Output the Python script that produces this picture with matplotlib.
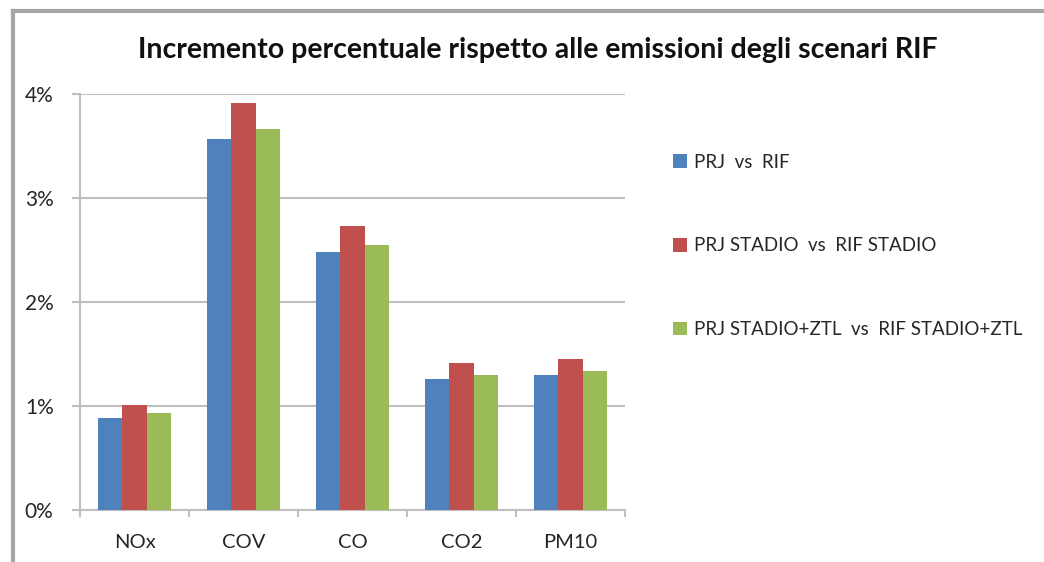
import matplotlib
matplotlib.use("Agg")
import matplotlib.pyplot as plt
import numpy as np
from matplotlib.lines import Line2D
from matplotlib.patches import Patch
from matplotlib.ticker import FixedLocator, PercentFormatter

plt.rcParams['font.family'] = ['Lato', 'DejaVu Sans']

# Emission increments (%) per pollutant
categories = ["NOx", "COV", "CO", "CO2", "PM10"]
prj_vs_rif = [0.88, 3.57, 2.48, 1.26, 1.30]
prj_stadio_vs_rif_stadio = [1.01, 3.91, 2.73, 1.41, 1.45]
prj_ztl_vs_rif_ztl = [0.93, 3.66, 2.55, 1.30, 1.34]
series_labels = ["PRJ  vs  RIF",
                 "PRJ STADIO  vs  RIF STADIO",
                 "PRJ STADIO+ZTL  vs  RIF STADIO+ZTL"]
yticks = [0, 1, 2, 3, 4]

colors = ["#4F81BD", "#C0504D", "#9BBB59"]
grid_c = "#BFBFBF"
text_c = "#262626"

W, H = 1044, 562
fig = plt.figure(figsize=(W / 100, H / 100), dpi=100)
fig.patch.set_facecolor("white")

ax = fig.add_axes([80 / W, (H - 510) / H, 545 / W, (510 - 94) / H])

x = np.arange(len(categories))
bw = 0.222
series = [prj_vs_rif, prj_stadio_vs_rif_stadio, prj_ztl_vs_rif_ztl]
for i, (vals, col, lab) in enumerate(zip(series, colors, series_labels)):
    ax.bar(x + (i - 1) * bw, vals, width=bw, color=col, label=lab,
           zorder=3, linewidth=0)

ax.set_xlim(-0.5, len(categories) - 0.5)
ax.set_ylim(0, 4)
ax.yaxis.set_major_locator(FixedLocator(yticks))
ax.yaxis.set_major_formatter(PercentFormatter(decimals=0))
ax.grid(axis="y", color=grid_c, linewidth=1.5, zorder=0)

ax.set_xticks(x)
ax.set_xticklabels(categories)
ax.set_xticks(np.arange(-0.5, len(categories)), minor=True)
ax.tick_params(axis="x", which="major", length=0, pad=17,
               labelsize=14.5, labelcolor=text_c)
ax.tick_params(axis="x", which="minor", length=5, width=1.5, color=grid_c)
ax.tick_params(axis="y", which="major", length=6, width=1.5, color=grid_c,
               pad=13, labelsize=15, labelcolor=text_c)

for s in ["top", "right"]:
    ax.spines[s].set_visible(False)
for s in ["left", "bottom"]:
    ax.spines[s].set_color(grid_c)
    ax.spines[s].set_linewidth(1.5)

fig.text(538 / W, 1 - 50 / H,
         "Incremento percentuale rispetto alle emissioni degli scenari RIF",
         ha="center", va="center", fontsize=20.5, fontweight="bold",
         color="#111111")

handles = [Patch(facecolor=c, edgecolor="none") for c in colors]
fig.legend(handles, series_labels, loc="upper left",
           bbox_to_anchor=(656 / W, 1 - 137 / H), frameon=False,
           fontsize=13.5, labelspacing=3.55, handlelength=0.75,
           handleheight=0.75, handletextpad=0.4, labelcolor=text_c)

# Outer chart frame (top and left edges)
fig.add_artist(Line2D([13 / W, 13 / W], [0, 1 - 11 / H],
                      transform=fig.transFigure, color="#A6A6A6", linewidth=3))
fig.add_artist(Line2D([13 / W, 1], [1 - 11 / H, 1 - 11 / H],
                      transform=fig.transFigure, color="#A6A6A6", linewidth=3))

fig.savefig("out.png", dpi=100, facecolor="white")
